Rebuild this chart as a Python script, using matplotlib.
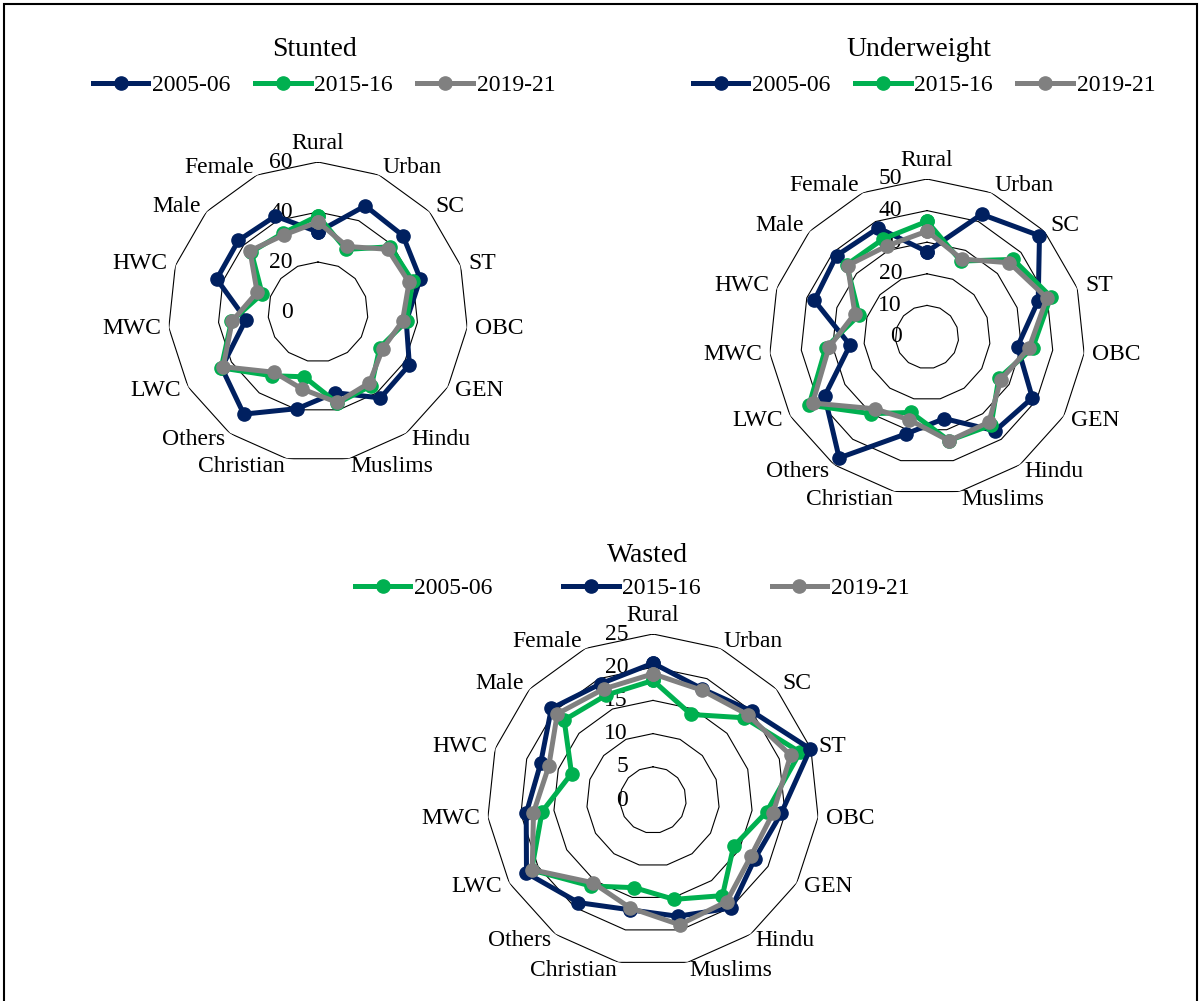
import numpy as np
import matplotlib.pyplot as plt

plt.rcParams['font.family'] = ['Liberation Serif', 'DejaVu Serif']

# categories around each radar, clockwise from the top
categories = ["Rural", "Urban", "SC", "ST", "OBC", "GEN", "Hindu", "Muslims",
              "Christian", "Others", "LWC", "MWC", "HWC", "Male", "Female"]
years = ["2005-06", "2015-16", "2019-21"]

# Stunted (%)
stunted_2005 = [32, 46.5, 45.7, 43, 35.5, 42.2, 42.5, 33, 39.5, 50.5, 44.5, 29, 42.6, 42.8, 42]
stunted_2015 = [38.5, 27.4, 39, 39.8, 35.6, 28.5, 36.4, 37.3, 26.5, 31.5, 44.7, 34.8, 23.5, 35.9, 34.5]
stunted_2019 = [36, 28.7, 37.5, 38.3, 34, 29.8, 35, 37, 31.4, 29.8, 43.8, 34.5, 25.6, 36.6, 33.7]

# Underweight (%)
under_2005 = [27, 42.5, 47.9, 37, 28.8, 38.5, 36.7, 26.4, 31.3, 47.3, 37.4, 24.5, 37.5, 38.5, 37.8]
under_2015 = [36.6, 26.3, 36.7, 41.2, 33.6, 26.2, 34.5, 33.5, 24.4, 30, 43.1, 32.2, 22.6, 34.2, 34]
under_2019 = [33.5, 27, 35.1, 39.9, 32.5, 27, 33.3, 33.6, 26.8, 28.1, 41.8, 31.2, 24, 33.8, 31.5]

# Wasted (%)
wasted_2005 = [18, 14.1, 18.5, 23.3, 17.2, 14, 17.8, 15.3, 13.5, 16, 21.1, 16.8, 12.9, 18, 17.3]
wasted_2015 = [20.6, 18.3, 20, 24.9, 19.4, 17.7, 20.1, 17.9, 16.9, 19.1, 22, 19.2, 17.8, 20.6, 19.2]
wasted_2019 = [19, 18.1, 19.2, 21.8, 18.2, 17, 18.9, 19.2, 16.6, 15.4, 21, 18.1, 16.5, 19.4, 18.3]

navy = "#002060"
green = "#00B050"
gray = "#808080"

W, H = 1203, 1001
fig = plt.figure(figsize=(W / 100, H / 100), dpi=100)

angles = np.linspace(0, 2 * np.pi, len(categories), endpoint=False)
closed = np.append(angles, angles[0])


def radar(cx, cy, R, levels, series, title, title_pos, leg_pos, colsp):
    ax = fig.add_axes([(cx - R) / W, 1 - (cy + R) / H, 2 * R / W, 2 * R / H],
                      projection='polar')
    ax.set_theta_zero_location('N')
    ax.set_theta_direction(-1)
    ax.set_ylim(0, levels[-1])
    ax.grid(False)
    ax.set_xticks([])
    ax.set_yticks([])
    ax.spines['polar'].set_visible(False)
    ax.patch.set_alpha(0)

    # polygon rings and value labels
    for lv in levels:
        ax.plot(closed, [lv] * len(closed), color='black', lw=0.8, zorder=1)
    for lv in [0] + levels:
        ax.annotate(str(lv), (0, lv), xytext=(-25, 0), textcoords='offset pixels',
                    ha='right', va='center', fontsize=17, zorder=2)

    # category labels
    for a, name in zip(angles, categories):
        ux, uy = np.sin(a), np.cos(a)
        ha = 'center' if abs(ux) < 0.1 else ('left' if ux > 0 else 'right')
        va = 'bottom' if uy > 0.95 else 'center'
        ax.annotate(name, (a, levels[-1]), xytext=(8 * ux, 8 * uy),
                    textcoords='offset pixels', ha=ha, va=va, fontsize=17,
                    annotation_clip=False)

    handles = []
    for label, vals, col in series:
        v = np.append(vals, vals[0])
        h, = ax.plot(closed, v, color=col, lw=3.6, marker='o', ms=9.5,
                     label=label, clip_on=False, zorder=3)
        handles.append(h)

    fig.text(title_pos[0] / W, 1 - title_pos[1] / H, title, ha='center',
             va='center', fontsize=20)
    fig.legend(handles, [h.get_label() for h in handles], loc='center',
               bbox_to_anchor=(leg_pos[0] / W, 1 - leg_pos[1] / H), ncol=3,
               frameon=False, fontsize=17, handlelength=2.35,
               handletextpad=0.15, columnspacing=colsp, borderaxespad=0)


radar(318, 312, 150, [20, 40, 60],
      [(years[0], stunted_2005, navy), (years[1], stunted_2015, green),
       (years[2], stunted_2019, gray)],
      "Stunted", (315, 50), (324, 85), 1.05)

radar(927, 337, 158, [10, 20, 30, 40, 50],
      [(years[0], under_2005, navy), (years[1], under_2015, green),
       (years[2], under_2019, gray)],
      "Underweight", (919, 50), (924, 85), 1.05)

radar(653, 800, 166, [5, 10, 15, 20, 25],
      [(years[0], wasted_2005, green), (years[1], wasted_2015, navy),
       (years[2], wasted_2019, gray)],
      "Wasted", (647, 555), (632, 588), 3.0)

# outer frame (bottom edge runs off the image)
fig.add_artist(plt.Rectangle((4 / W, -0.02), (1197 - 4) / W, 1 - 4 / H + 0.02,
                             fill=False, lw=1.5, color='black',
                             transform=fig.transFigure))

fig.savefig("out.png", dpi=100)
